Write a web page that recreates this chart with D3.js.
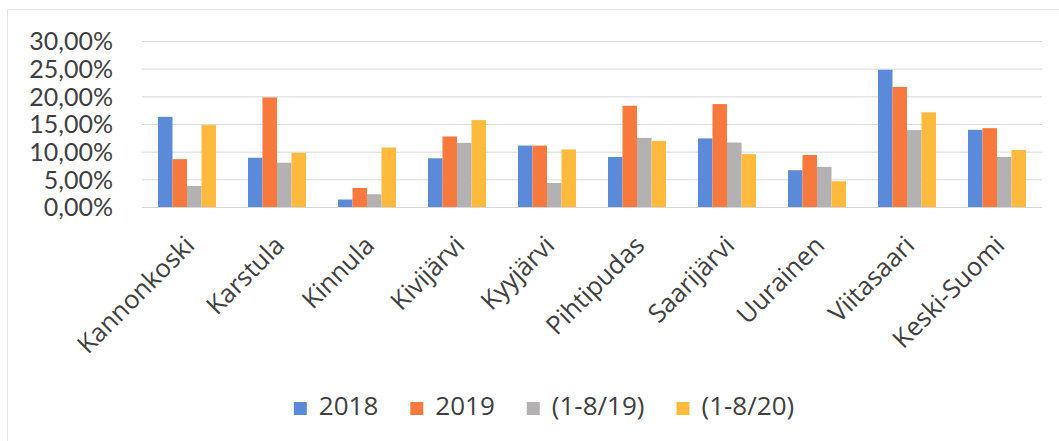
<!DOCTYPE html>
<html>
<head>
<meta charset="utf-8">
<script src="https://cdn.jsdelivr.net/npm/d3@7"></script>
<style>
  body { margin: 0; background: #fff; }
  text { font-family: "Open Sans", Lato, sans-serif; fill: #404040; }
  .grid line { stroke: #d9d9d9; stroke-width: 1; }
  .grid text { font-family: Lato, "Open Sans", sans-serif; }
</style>
</head>
<body>
<script>
// data
const categories = ["Kannonkoski", "Karstula", "Kinnula", "Kivijärvi", "Kyyjärvi",
    "Pihtipudas", "Saarijärvi", "Uurainen", "Viitasaari", "Keski-Suomi"];
const seriesNames = ["2018", "2019", "(1-8/19)", "(1-8/20)"];
const v2018 = [16.3, 8.9, 1.35, 8.8, 11.1, 9.05, 12.4, 6.65, 24.8, 13.95];
const v2019 = [8.65, 19.8, 3.45, 12.75, 11.1, 18.3, 18.6, 9.4, 21.7, 14.25];
const v1_8_19 = [3.8, 8.0, 2.3, 11.6, 4.35, 12.5, 11.65, 7.25, 13.9, 9.05];
const v1_8_20 = [14.8, 9.8, 10.75, 15.7, 10.4, 11.95, 9.55, 4.65, 17.1, 10.3];
const yTicks = [0, 5, 10, 15, 20, 25, 30];
const colors = ["#5b8bd8", "#f7793e", "#b3b1b1", "#fdba3c"];

const seriesValues = [v2018, v2019, v1_8_19, v1_8_20];

const W = 1059, H = 441;
let margin = { top: 41, left: 142, right: 17, bottom: 234 };
let width = W - margin.left - margin.right,
    height = H - margin.top - margin.bottom;

let svg = d3.select("body").append("svg")
    .attr("width", W)
    .attr("height", H);

// faint frame of the chart area
svg.append("rect")
    .attr("x", 7.5).attr("y", 9.5)
    .attr("width", 1080).attr("height", 460)
    .attr("fill", "none")
    .attr("stroke", "#e6e6e6");

let g = svg.append("g")
    .attr("transform", "translate(" + margin.left + "," + margin.top + ")");

let x = d3.scaleBand().domain(categories).range([0, width])
    .paddingInner(0.355).paddingOuter(0.1775);
let xs = d3.scaleBand().domain(d3.range(seriesNames.length)).range([0, x.bandwidth()]);
let y = d3.scaleLinear().domain([0, 30]).range([height, 0]);

// gridlines + labels
let yAxis = d3.axisLeft(y).tickValues(yTicks)
    .tickSize(-width)
    .tickFormat(d => d3.format(".2f")(d).replace(".", ",") + "%");
let ya = g.append("g").attr("class", "grid").call(yAxis);
ya.select(".domain").remove();
ya.selectAll("text")
    .attr("x", -29)
    .attr("dy", "0.35em")
    .style("font-size", "25px");

// bars
seriesValues.forEach(function (vals, si) {
    g.append("g")
        .attr("fill", colors[si])
        .selectAll("rect")
        .data(vals)
        .join("rect")
        .attr("x", (d, i) => x(categories[i]) + xs(si))
        .attr("y", d => y(d))
        .attr("width", xs.bandwidth())
        .attr("height", d => height - y(d));
});

// category labels, rotated
g.append("g").selectAll("text")
    .data(categories)
    .join("text")
    .attr("text-anchor", "end")
    .style("font-size", "25.5px")
    .attr("transform", d => "translate(" + (x(d) + x.bandwidth() / 2 + 9) + "," + (height + 40) + ") rotate(-45)")
    .text(d => d);

// legend
let legend = svg.append("g");
let items = legend.selectAll("g")
    .data(seriesNames)
    .join("g");
items.append("rect")
    .attr("width", 13).attr("height", 13)
    .attr("y", -13)
    .attr("fill", (d, i) => colors[i]);
items.append("text")
    .attr("x", 25)
    .attr("y", 0)
    .style("font-size", "26px")
    .text(d => d);
let pos = 0;
items.each(function () {
    d3.select(this).attr("transform", "translate(" + pos + ",0)");
    pos += this.getBBox().width + 32;
});
let legendWidth = pos - 32;
legend.attr("transform", "translate(" + (544 - legendWidth / 2) + ",415)");
</script>
</body>
</html>
